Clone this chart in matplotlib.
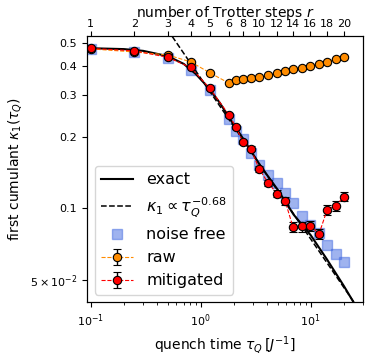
import numpy as np
import matplotlib
matplotlib.use("Agg")
import matplotlib.pyplot as plt

# Trotter steps and the matching quench times
r_steps = [1, 2, 3, 4, 5, 6, 7, 8, 9, 10, 11, 12, 13, 14, 15, 16, 17, 18, 19, 20]
tau_q = [0.1, 0.25, 0.5, 0.81, 1.21, 1.81, 2.08, 2.42, 2.85, 3.39, 4.1, 4.94,
         5.85, 6.9, 8.25, 9.86, 11.9, 14.1, 16.8, 20.1]

k_raw = [0.472, 0.458, 0.445, 0.416, 0.374, 0.338, 0.350, 0.353, 0.356, 0.359,
         0.365, 0.372, 0.379, 0.388, 0.393, 0.401, 0.409, 0.417, 0.427, 0.437]
err_raw = [0.004] * 20

k_mit = [0.474, 0.463, 0.435, 0.394, 0.321, 0.248, 0.221, 0.191, 0.179, 0.147,
         0.128, 0.1155, 0.1075, 0.0833, 0.0838, 0.0846, 0.078, 0.0986, 0.1027, 0.112]
err_mit = [0.004, 0.004, 0.004, 0.004, 0.004, 0.004, 0.004, 0.004, 0.004, 0.004,
           0.004, 0.004, 0.004, 0.004, 0.004, 0.004, 0.004, 0.005, 0.005, 0.005]

k_noisefree = [0.472, 0.46, 0.43, 0.385, 0.316, 0.238, 0.212, 0.196, 0.171, 0.153,
               0.138, 0.128, 0.1166, 0.105, 0.093, 0.085, 0.0788, 0.0702, 0.0644, 0.0596]

# exact curve
tau_exact = [0.1, 0.2, 0.3, 0.5, 0.7, 0.9, 1.2, 1.5, 1.8, 2.5, 3.5, 5.0, 7.0,
             10.0, 14.0, 20.0, 25.0]
k_exact = [0.475, 0.471, 0.463, 0.44, 0.408, 0.37, 0.32, 0.278, 0.243, 0.193,
           0.151, 0.12, 0.094, 0.077, 0.061, 0.047, 0.0395]

# power law fit
pl_amp = 0.355
pl_exp = -0.68
tau_fit = [0.5, 30.0]

top_r = [1, 2, 3, 4, 5, 6, 8, 10, 12, 14, 16, 18, 20]

fig = plt.figure(figsize=(3.71, 3.59), dpi=100)
ax = fig.add_axes([0.2345, 0.1574, 0.7445, 0.7423])

ax.plot(tau_q, k_noisefree, 's', color='royalblue', alpha=0.5, ms=6.5,
        mec='royalblue', label='noise free', zorder=1)
ax.plot(tau_exact, k_exact, '-', color='black', lw=1.5, label='exact', zorder=2)
tf = np.array(tau_fit)
ax.plot(tf, pl_amp * tf ** pl_exp, '--', color='black', lw=1.1,
        label=r'$\kappa_1 \propto \tau_Q^{-0.68}$', zorder=2)
ax.errorbar(tau_q, k_raw, yerr=err_raw, fmt='o--', color='darkorange', lw=0.8,
            mfc='darkorange', mec='black', mew=0.8, ms=6, ecolor='black',
            elinewidth=1, capsize=3, label='raw', zorder=3)
ax.errorbar(tau_q, k_mit, yerr=err_mit, fmt='o--', color='red', lw=0.8,
            mfc='red', mec='black', mew=0.8, ms=6, ecolor='black',
            elinewidth=1, capsize=3, label='mitigated', zorder=4)

ax.set_xscale('log')
ax.set_yscale('log')
ax.set_xlim(0.0925, 30)
ax.set_ylim(0.040, 0.535)

ax.yaxis.set_minor_locator(matplotlib.ticker.NullLocator())
ax.set_yticks([0.05, 0.1, 0.2, 0.3, 0.4, 0.5])
ax.set_yticklabels([r'$5\times10^{-2}$', '0.1', '0.2', '0.3', '0.4', '0.5'])
ax.tick_params(labelsize=8)
ax.set_xlabel(r'quench time $\tau_Q\,[J^{-1}]$', fontsize=10)
ax.set_ylabel(r'first cumulant $\kappa_1(\tau_Q)$', fontsize=10)

h, l = ax.get_legend_handles_labels()
order = [l.index(s) for s in ['exact', r'$\kappa_1 \propto \tau_Q^{-0.68}$',
                              'noise free', 'raw', 'mitigated']]
ax.legend([h[i] for i in order], [l[i] for i in order], loc='lower left',
          fontsize=11.5)

ax2 = ax.twiny()
ax2.set_xscale('log')
ax2.set_xlim(ax.get_xlim())
ax2.set_xticks([tau_q[r - 1] for r in top_r])
ax2.set_xticklabels([str(r) for r in top_r])
ax2.xaxis.set_minor_locator(matplotlib.ticker.NullLocator())
ax2.tick_params(labelsize=8, pad=1.5)
ax2.set_xlabel(r'number of Trotter steps $r$', fontsize=10, labelpad=1.5)

fig.savefig('out.png', dpi=100)
